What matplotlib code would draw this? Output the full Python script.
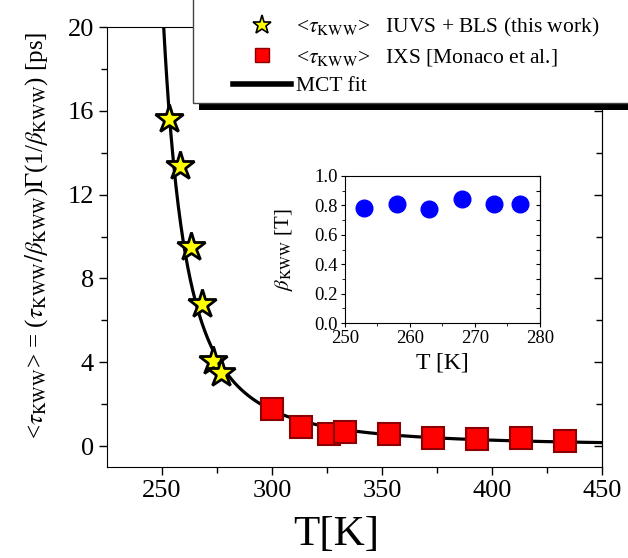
import numpy as np
import matplotlib
matplotlib.use("Agg")
import matplotlib.pyplot as plt
from matplotlib.patches import Rectangle
from matplotlib.lines import Line2D
from matplotlib.ticker import FormatStrFormatter

plt.rcParams['font.family'] = 'Liberation Serif'
plt.rcParams['mathtext.fontset'] = 'stix'

# IUVS + BLS (this work)
T_iuvs = [253, 258, 263, 268, 273, 277]
tau_iuvs = [15.6, 13.35, 9.5, 6.8, 4.05, 3.5]
beta_iuvs = [0.785, 0.81, 0.775, 0.845, 0.81, 0.81]
# IXS [Monaco et al.]
T_ixs = [300, 313, 326, 333, 353, 373, 393, 413, 433]
tau_ixs = [1.75, 0.92, 0.57, 0.68, 0.57, 0.37, 0.33, 0.37, 0.25]
# MCT fit parameters: tau = A * (T - Tc)^(-gamma)
mct_A = 10536.0
mct_Tc = 229.5
mct_gamma = 2.05

T_fit = np.linspace(mct_Tc + 0.3, 450, 600)
tau_fit = mct_A * (T_fit - mct_Tc) ** (-mct_gamma)

fig = plt.figure(figsize=(6.28, 5.58), dpi=100)
ax = fig.add_axes([107/628, 1-467/558, 495/628, 440/558])
ax.plot(T_fit, tau_fit, color='black', lw=2.3, zorder=2)
ax.plot(T_iuvs, tau_iuvs, ls='none', marker='*', ms=21, mfc='#FFFF00', mec='black', mew=2, zorder=3)
ax.plot(T_ixs, tau_ixs, ls='none', marker='s', ms=16, mfc='#FF0000', mec='#8B0000', mew=1.5, zorder=3)
ax.set_xlim(225, 450)
ax.set_ylim(-1, 20)
ax.set_xticks([250, 300, 350, 400, 450])
ax.set_xticks([275, 325, 375, 425], minor=True)
ax.set_yticks([0, 4, 8, 12, 16, 20])
ax.set_yticks([2, 6, 10, 14, 18], minor=True)
ax.tick_params(axis='both', which='both', labelsize=19, direction='out', width=1)
ax.tick_params(which='major', length=6)
ax.tick_params(which='minor', length=4)
sec = ax.secondary_yaxis('right')
sec.set_yticks([0, 4, 8, 12, 16, 20])
sec.set_yticks([2, 6, 10, 14, 18], minor=True)
sec.tick_params(which='both', direction='in', labelright=False, width=1)
sec.tick_params(which='major', length=6)
sec.tick_params(which='minor', length=4)
ax.set_xlabel('T[K]', fontsize=31)
ax.set_ylabel(r'<$\tau_{\rm KWW}$> = ($\tau_{\rm KWW}/\beta_{\rm KWW}$)$\Gamma$(1/$\beta_{\rm KWW}$) [ps]', fontsize=18)
ax.xaxis.set_label_coords(0.463, -0.11)
ax.yaxis.set_label_coords(-0.115, 0.527)

ins = fig.add_axes([345/628, 1-323/558, 195/628, 147/558])
ins.plot(T_iuvs, beta_iuvs, ls='none', marker='o', ms=12, color='#0000FF')
ins.set_xlim(250, 280)
ins.set_ylim(0, 1)
ins.set_xticks([250, 260, 270, 280])
ins.set_xticks([255, 265, 275], minor=True)
ins.set_yticks([0, 0.2, 0.4, 0.6, 0.8, 1.0])
ins.set_yticks(np.arange(0.1, 1.0, 0.2), minor=True)
ins.yaxis.set_major_formatter(FormatStrFormatter('%.1f'))
ins.tick_params(labelsize=13.5, length=3, width=0.8, pad=2)
ins.tick_params(which='minor', length=2)
isec = ins.secondary_yaxis('right')
isec.set_yticks(np.arange(0, 1.01, 0.1))
isec.tick_params(direction='in', labelright=False, length=3, width=0.8)
ins.set_xlabel('T [K]', fontsize=17)
ins.set_ylabel(r'$\beta_{\rm KWW}$ [T]', fontsize=15)
ins.yaxis.set_label_coords(-0.255, 0.5)

fig.add_artist(Rectangle((199/628, 1-110/558), 1, 1, transform=fig.transFigure, facecolor='black', edgecolor='none', zorder=3))
fig.add_artist(Rectangle((193/628, 1-103/558), 1, 1, transform=fig.transFigure, facecolor='white', edgecolor='#444444', lw=1, zorder=4))

h1 = Line2D([], [], ls='none', marker='*', ms=14, mfc='#FFFF00', mec='black', mew=1.2)
h2 = Line2D([], [], ls='none', marker='s', ms=10, mfc='#FF0000', mec='#8B0000', mew=1)
h3 = Line2D([], [], color='black', lw=4)
leg = fig.legend([h1, h2, h3],
                 [r'<$\tau_{\rm KWW}$>   IUVS + BLS (this work)',
                  r'<$\tau_{\rm KWW}$>   IXS [Monaco et al.]',
                  'MCT fit'],
                 loc='upper left', bbox_to_anchor=(222/628, 1-5/558), frameon=False,
                 fontsize=15.5, borderpad=0, handlelength=2.7, handletextpad=0.25, labelspacing=0.38)
leg.set_zorder(5)
fig.savefig('out.png', dpi=100)
